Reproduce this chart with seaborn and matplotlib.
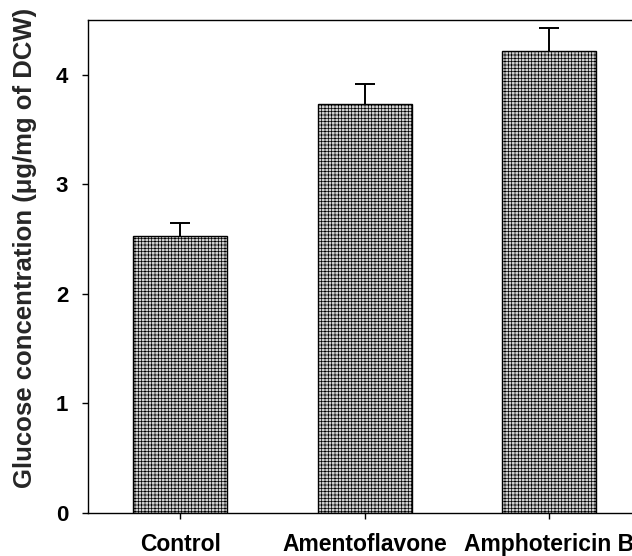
import matplotlib
matplotlib.use("Agg")
import matplotlib.pyplot as plt
import seaborn as sns
import pandas as pd

categories = ["Control", "Amentoflavone", "Amphotericin B"]
values = [2.527, 3.734, 4.218]
errors = [0.12, 0.18, 0.21]
y_ticks = [0, 1, 2, 3, 4]

sns.set_style("ticks")
plt.rcParams["font.family"] = ["Liberation Sans", "DejaVu Sans"]
plt.rcParams["font.weight"] = "bold"
plt.rcParams["hatch.color"] = "#999999"
plt.rcParams["hatch.linewidth"] = 0.5

df = pd.DataFrame({"group": categories, "glucose": values})

fig = plt.figure(figsize=(6.32, 5.56), dpi=100)
ax = fig.add_axes([88 / 632, 43 / 556, 553.5 / 632, 493 / 556])

sns.barplot(data=df, x="group", y="glucose", order=categories, ax=ax,
            color="#d0d0d0", width=0.51, errorbar=None,
            edgecolor="black", linewidth=1.0, saturation=1)
for p in ax.patches:
    p.set_hatch("+++++")

eb = ax.errorbar(range(len(categories)), values,
                 yerr=[[0] * len(errors), errors],
                 fmt="none", ecolor="black", elinewidth=1.4, capsize=7.5,
                 capthick=1.4)
# keep only the upper cap
eb[1][0].remove()

ax.set_xlim(-0.5, 2.5)
ax.set_ylim(0, 4.5)
ax.set_yticks(y_ticks)
ax.set_yticklabels([str(t) for t in y_ticks])
ax.set_xlabel("")
ax.set_ylabel("Glucose concentration (μg/mg of DCW)", fontsize=18.5,
              fontweight="bold")
ax.yaxis.set_label_coords(-0.092, 0.5375)

for s in ["left", "bottom", "top", "right"]:
    ax.spines[s].set_visible(True)
    ax.spines[s].set_color("black")
    ax.spines[s].set_linewidth(1.0)

ax.tick_params(axis="y", direction="out", length=4.3, width=1,
               pad=10, labelsize=16, colors="black")
ax.tick_params(axis="x", direction="out", length=4.3, width=1,
               pad=10, labelsize=16.5, colors="black")
for lab in ax.get_xticklabels() + ax.get_yticklabels():
    lab.set_fontweight("bold")

fig.savefig("out.png", dpi=100)
